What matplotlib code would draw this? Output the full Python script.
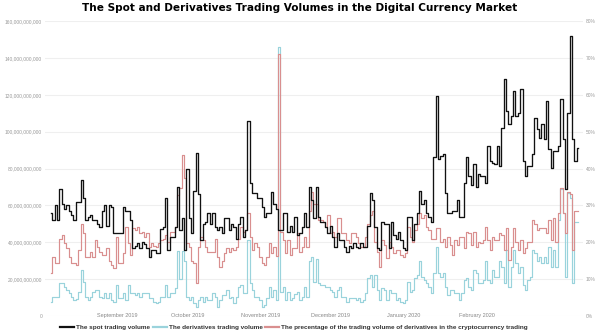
import matplotlib
matplotlib.use('Agg')
import matplotlib.pyplot as plt
import matplotlib.dates as mdates
from matplotlib.lines import Line2D
import numpy as np
import pandas as pd

# daily values, first day 2019-08-04
start_day = '2019-08-04'

# spot trading volume (billion)
spot = [55.7, 52, 60, 52, 69, 61, 58, 60, 57, 54.6,
        52, 61.6, 61.6, 73.5, 64, 52, 53.5, 54.6, 52, 52,
        50, 48, 57, 60, 49, 60, 59, 45, 45, 45,
        45, 59, 57, 57, 52, 37, 38, 39.5, 37, 40,
        39, 37, 32, 35.6, 35.6,
        34, 34, 47, 48, 64, 35.6, 43, 43, 48, 70,
        46.5, 53, 35.6, 79.5, 53, 45, 68, 88.6, 66, 41,
        50, 51, 55.7, 50, 55.7, 48, 46.5, 48, 45, 53,
        53, 46.5, 50, 48, 42, 50, 53.5, 43, 46.5, 106,
        72, 66.5, 66.5, 64, 64, 59,
        53.5, 55.7, 55.7, 67, 61, 58, 46.5, 46.5, 55.7, 55.7,
        45.4, 49, 45.4, 53.5, 43.8, 45, 48, 56, 48, 70,
        62.7, 53, 70, 53.5, 51, 51, 48, 45, 49, 43,
        37.5, 45, 41, 41, 37.5, 34.6, 38, 36.7, 39.5, 37.5,
        36.7, 39.5, 37.5, 37.5, 49, 66.5, 62.7,
        48, 36.7, 35.6, 51, 50, 50, 36.7, 51, 43.8, 42,
        45.4, 41, 36.7, 35.6, 53.5, 53.5, 41, 50, 55.7, 68,
        61, 62.7, 55.7, 53.5, 51, 86, 119.5, 85.4, 87, 88,
        66.5, 55.7, 55.7, 57, 57, 62.7, 53.5, 53.5, 72.4, 86,
        76, 70.8, 82.7, 70, 77, 76, 76,
        72, 92, 84, 83, 82.7, 92.4, 81.6, 102, 128.6, 111,
        104, 108.6, 122, 108.6, 110, 123, 84, 76, 81.6, 81.6,
        88, 107.6, 101.6, 96.7, 104, 96, 116.7, 90.8, 80.5, 89.7,
        89.7, 92.4, 117.8, 96, 69, 110, 152, 96, 84, 91]

# derivatives trading volume (billion)
deriv = [7.6, 10.3, 10.3, 10.3, 17.8, 17.8, 15.7, 14, 12.4, 10.3,
         8.6, 9, 13, 24.9, 18.4, 10.3, 8.6, 10.3, 13, 14,
         14, 10.3, 9.7, 12.4, 9.7, 12.4, 8.6, 7.6, 16.8, 9.7,
         9.7, 12.4, 8.6, 16.8, 12.4, 12.4, 11.4, 12.4, 10.3, 12.4,
         12.4, 12.4, 9.7, 9.7, 7.6,
         7, 7.6, 10.3, 10.3, 16.8, 10.3, 12.4, 12.4, 15, 35,
         20, 35, 30, 10.3, 8.6, 10.3, 7, 4.9, 8.6, 10.3,
         7.6, 10.3, 8.6, 8.6, 12.4, 10.3, 4.9, 8.6, 11.4, 11.4,
         14, 9.7, 10.3, 7, 10.3, 15.7, 16.8, 12.4, 12.4, 41,
         17.8, 14, 10.3, 10.3, 8.6, 4.9,
         6, 9.7, 15.7, 10.3, 14, 8.6, 146, 13, 15.7, 8.6,
         13, 8.6, 9.7, 12, 13, 8.6, 10.3, 15.7, 10.3, 30,
         32, 18.4, 31, 17.8, 16.8, 16.8, 15.7, 15.7, 14, 13,
         10.3, 14, 15.7, 10.3, 10.3, 7.6, 9.7, 9.7, 9.7, 8.6,
         9.7, 7.6, 8.6, 12.4, 20.5, 22, 15.7,
         22, 14, 8.6, 15, 14, 8.6, 14, 12.4, 12.4, 8.6,
         9.7, 7.6, 7, 8.6, 18.4, 13, 14, 20.5, 22, 30,
         21, 19.5, 17.8, 15.7, 12.4, 23.2, 37.3, 23.2, 21, 23.2,
         15.7, 11.4, 14, 14, 12.4, 12.4, 8.6, 12.4, 19.5, 20.5,
         15.7, 14, 24.9, 23.2, 17.8, 17.8, 19.5,
         30, 19.5, 17.8, 24.9, 21, 21, 30, 26.5, 17.8, 35.7,
         15.7, 26.5, 35.7, 28.6, 23.2, 26.5, 16.8, 14, 19.5, 21,
         35.7, 34, 30, 32, 28.6, 32, 28.6, 37.3, 26.5, 35.7,
         26.5, 51.9, 69, 55.7, 21, 66.5, 64, 17.8, 51, 51]

# share of derivatives in total trading (%)
pct = [11.6, 16, 14.3, 14.3, 21, 22, 19.7, 18.4, 16, 14.3,
       14.3, 13.8, 17.8, 25, 22.4, 16, 16, 17.3, 16, 20.5,
       18.7, 17.3, 16.5, 16.5, 18.4, 15, 13.8, 13, 21.4, 14.3,
       14.3, 17, 24, 19.7, 16.5, 23.8, 23.2, 24, 22.4, 22.7,
       21.4, 22.4, 18.7, 19.7, 19,
       18.7, 19.7, 20.5, 21, 22, 20, 22.7, 22.7, 24, 32.7,
       34.6, 43.7, 37.5, 19.7, 18.7, 15, 14.3, 8.9, 18.7, 21.4,
       20.5, 18.7, 17.3, 17.3, 17.3, 21, 16, 13.3, 15, 17,
       18.4, 17.3, 18.4, 17.8, 18.7, 21, 24, 22.7, 23.2, 28,
       21.4, 17.8, 19.7, 18.7, 16, 14.3,
       13.8, 16, 19.7, 17, 18.7, 16.2, 71, 22.7, 20.5, 17,
       20.5, 16.5, 18.4, 18.4, 22.4, 17.3, 18.7, 21.4, 18.7, 28.6,
       33.5, 30.5, 30.5, 26, 26, 25.4, 24, 27.3, 22.4, 22.7,
       21.4, 26.7, 26.7, 22.4, 22.4, 20.5, 19.7, 22.4, 22.4, 21.4,
       19.7, 18.7, 18.7, 21.4, 25, 27.3, 28.6,
       20, 17.3, 13.3, 20.5, 19.2, 15.7, 20, 18.7, 17, 17.8,
       17.8, 16.5, 16, 17, 24, 21.4, 20, 23.2, 25, 27.8,
       26.7, 27.3, 24, 23.2, 21, 21, 23.8, 23.8, 20, 21,
       18.7, 21.4, 19.2, 16.5, 20.5, 19.2, 21.4, 21.4, 18.4, 22.7,
       22.4, 19.2, 22.7, 18.7, 20, 19.7, 20.5,
       24, 20.5, 17.8, 21.4, 20.5, 20.5, 22.4, 22, 17.8, 23.8,
       15.1, 18.7, 23.8, 20, 17.8, 20.5, 17, 18.4, 20, 20,
       26, 25, 23.2, 23.8, 23.8, 23.8, 22.4, 26, 20.5, 26.5,
       20, 27.8, 34.6, 27.8, 22.4, 33.5, 33.2, 17.8, 28.6, 28.6]

month_ticks = ['2019-09-01', '2019-10-01', '2019-11-01', '2019-12-01', '2020-01-01', '2020-02-01']
month_labels = ['September 2019', 'October 2019', 'November 2019', 'December 2019', 'January 2020', 'February 2020']

series_names = ['The spot trading volume', 'The derivatives trading volume',
                'The precentage of the trading volume of derivatives in the cryptocurrency trading']
title = 'The Spot and Derivatives Trading Volumes in the Digital Currency Market'

c_spot = '#111111'
c_deriv = '#9ad3dc'
c_pct = '#d98f8f'

dates = pd.date_range(start_day, periods=len(spot), freq='D')
x = mdates.date2num(dates)

fig = plt.figure(figsize=(6, 3.35), dpi=100)
ax = fig.add_axes([0.075, 0.057, 0.897, 0.880])   # derivatives + left labels
ax2 = ax.twinx()                                   # percentage + right labels
ax3 = ax.twinx()                                   # spot volume, drawn on top
ax.set_zorder(1)
ax2.set_zorder(2)
ax3.set_zorder(3)
ax2.patch.set_visible(False)
ax3.patch.set_visible(False)

ax.plot(x, np.array(deriv) * 1e9, drawstyle='steps-mid', color=c_deriv, lw=0.85)
ax2.plot(x, pct, drawstyle='steps-mid', color=c_pct, lw=0.85)
ax3.plot(x, np.array(spot) * 1e9, drawstyle='steps-mid', color=c_spot, lw=0.95)

ax.set_ylim(0, 160e9)
ax3.set_ylim(0, 160e9)
ax2.set_ylim(0, 80)
ax.set_xlim(x[0] - 2.6, x[-1] + 2.3)

ax.set_yticks(np.arange(0, 161e9, 20e9))
ax.set_yticklabels(['{:,.0f}'.format(v) for v in np.arange(0, 161e9, 20e9)])
ax2.set_yticks(np.arange(0, 81, 10))
ax2.set_yticklabels(['{:.0f}%'.format(v) for v in np.arange(0, 81, 10)])
ax3.set_yticks([])
ax.grid(axis='y', color='#efefef', lw=0.8)
ax.set_axisbelow(True)

ax.set_xticks(mdates.date2num(pd.to_datetime(month_ticks)))
ax.set_xticklabels(month_labels)

for a in (ax, ax2, ax3):
    for s in a.spines.values():
        s.set_visible(False)
ax.tick_params(axis='y', length=0, pad=2, labelsize=3.5, labelcolor='#999999')
ax2.tick_params(axis='y', length=0, pad=2, labelsize=3.5, labelcolor='#999999')
ax.tick_params(axis='x', length=0, pad=-2.4, labelsize=4, labelcolor='#888888')
for lab in ax.get_xticklabels() + ax.get_yticklabels() + ax2.get_yticklabels():
    lab.set_family('Liberation Sans')

fig.text(0.5, 1 - 8 / 335, title, ha='center', va='center',
         fontsize=7.6, fontweight='bold', family='DejaVu Sans')

handles = [Line2D([], [], color=c_spot, lw=1.6),
           Line2D([], [], color=c_deriv, lw=1.6),
           Line2D([], [], color=c_pct, lw=1.6)]
leg = fig.legend(handles, series_names, loc='center', bbox_to_anchor=(0.49, 1 - 327 / 335),
                 ncol=3, frameon=False, handlelength=2.2, handletextpad=0.3, columnspacing=0.4,
                 prop={'family': 'Liberation Sans', 'weight': 'bold', 'size': 4.6})
for t in leg.get_texts():
    t.set_color('#333333')

fig.savefig('out.png', dpi=100)
